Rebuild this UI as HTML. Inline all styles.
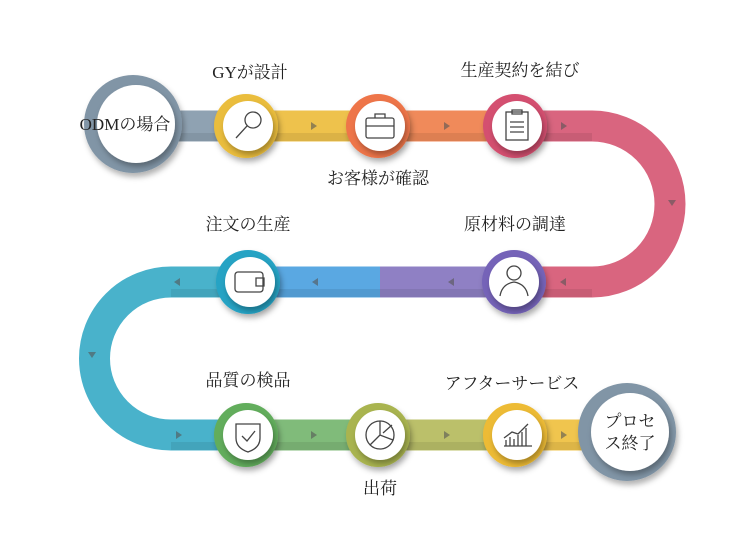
<!DOCTYPE html>
<html><head><meta charset="utf-8"><style>
html,body{margin:0;padding:0;background:#fff}
svg text{font-family:"Liberation Serif","Noto Serif CJK SC",serif;font-size:17px;fill:#222}
</style></head><body>
<svg width="750" height="550" viewBox="0 0 750 550" xmlns="http://www.w3.org/2000/svg">
<defs>
<filter id="sh" x="-30%" y="-30%" width="160%" height="160%"><feDropShadow dx="2" dy="4" stdDeviation="3" flood-opacity="0.3"/></filter>
</defs>
<g fill="none" stroke-width="31">
<path d="M175 126 H246" stroke="#8fa2b2"/>
<path d="M246 126 H378" stroke="#eec24c"/>
<path d="M378 126 H515" stroke="#f08a5a"/>
<path d="M515 126 H592 A78 78 0 0 1 592 282 H514" stroke="#d9657f"/>
<path d="M514 282 H380" stroke="#8f80c4"/>
<path d="M380 282 H248" stroke="#5aa8e2"/>
<path d="M248 282 H171 A76.5 76.5 0 0 0 171 435 H246" stroke="#49b2cb"/>
<path d="M246 435 H378" stroke="#80bb7a"/>
<path d="M378 435 H515" stroke="#bbc06a"/>
<path d="M515 435 H600" stroke="#f0c54e"/>
</g>
<g fill="none" stroke-width="8" stroke="#000" stroke-opacity="0.08">
<path d="M175 137 H592"/>
<path d="M592 293 H171"/>
<path d="M171 446 H600"/>
</g>
<g fill="#555" fill-opacity="0.6">
<path d="M311 122 l6 4 -6 4z"/><path d="M444 122 l6 4 -6 4z"/><path d="M561 122 l6 4 -6 4z"/>
<path d="M668 200 l8 0 -4 6z"/>
<path d="M566 278 l-6 4 6 4z"/><path d="M454 278 l-6 4 6 4z"/><path d="M318 278 l-6 4 6 4z"/><path d="M180 278 l-6 4 6 4z"/>
<path d="M88 352 l8 0 -4 6z"/>
<path d="M176 431 l6 4 -6 4z"/><path d="M311 431 l6 4 -6 4z"/><path d="M444 431 l6 4 -6 4z"/><path d="M561 431 l6 4 -6 4z"/>
</g>
<g filter="url(#sh)">
<circle cx="133" cy="124" r="49" fill="#8195a6"/>
<circle cx="627" cy="432" r="49" fill="#8195a6"/>
<circle cx="246" cy="126" r="32" fill="#eabd3c"/>
<circle cx="378" cy="126" r="32" fill="#ee7448"/>
<circle cx="515" cy="126" r="32" fill="#d4506f"/>
<circle cx="514" cy="282" r="32" fill="#7563b8"/>
<circle cx="248" cy="282" r="32" fill="#25a3c4"/>
<circle cx="246" cy="435" r="32" fill="#62ad5c"/>
<circle cx="378" cy="435" r="32" fill="#a9b450"/>
<circle cx="515" cy="435" r="32" fill="#edbb35"/>
</g>
<g fill="#fff" filter="url(#sh)">
<circle cx="136" cy="124" r="39"/>
<circle cx="630" cy="432" r="39"/>
<circle cx="248" cy="126" r="25"/><circle cx="380" cy="126" r="25"/><circle cx="517" cy="126" r="25"/>
<circle cx="514" cy="282" r="25"/><circle cx="250" cy="282" r="25"/>
<circle cx="248" cy="435" r="25"/><circle cx="380" cy="435" r="25"/><circle cx="517" cy="435" r="25"/>
</g>
<g fill="none" stroke="#444" stroke-width="1.3">
<circle cx="253" cy="120" r="8"/><path d="M247 126 L236 138"/>
<rect x="366" y="118" width="28" height="20" rx="2"/><path d="M375 118 v-4 h10 v4 M366 126 h28"/>
<rect x="506" y="112" width="22" height="28"/><path d="M512 110 h10 v4 h-10z M510 122 h14 M510 127 h14 M510 132 h14"/>
<circle cx="514" cy="273" r="7"/><path d="M500 296 q2 -12 14 -14 q12 2 14 14"/>
<rect x="235" y="272" width="28" height="20" rx="3"/><path d="M256 278 h8 v8 h-8z"/>
<path d="M236 424 h24 v14 q0 10 -12 14 q-12 -4 -12 -14z M242 436 l5 5 8 -10"/>
<circle cx="380" cy="435" r="14"/><path d="M380 435 L380 421 M380 435 L393 440 M380 435 L370 445 M383 433 L392 425"/>
<path d="M504 446 h28 M506 446 v-6 M510 446 v-9 M514 446 v-7 M518 446 v-11 M522 446 v-14 M526 446 v-18 M504 438 l8 -6 6 2 10 -10"/>
</g>
<text x="125" y="130" text-anchor="middle" font-size="15">ODMの場合</text>
<text x="630" y="427" text-anchor="middle" font-size="17">プロセ</text>
<text x="630" y="449" text-anchor="middle" font-size="17">ス終了</text>
<text x="250" y="78" text-anchor="middle">GYが設計</text>
<text x="520" y="76" text-anchor="middle">生産契約を結び</text>
<text x="378" y="184" text-anchor="middle">お客様が確認</text>
<text x="515" y="230" text-anchor="middle">原材料の調達</text>
<text x="248" y="230" text-anchor="middle">注文の生産</text>
<text x="248" y="386" text-anchor="middle">品質の検品</text>
<text x="512" y="389" text-anchor="middle">アフターサービス</text>
<text x="380" y="494" text-anchor="middle">出荷</text>
</svg>
</body></html>
